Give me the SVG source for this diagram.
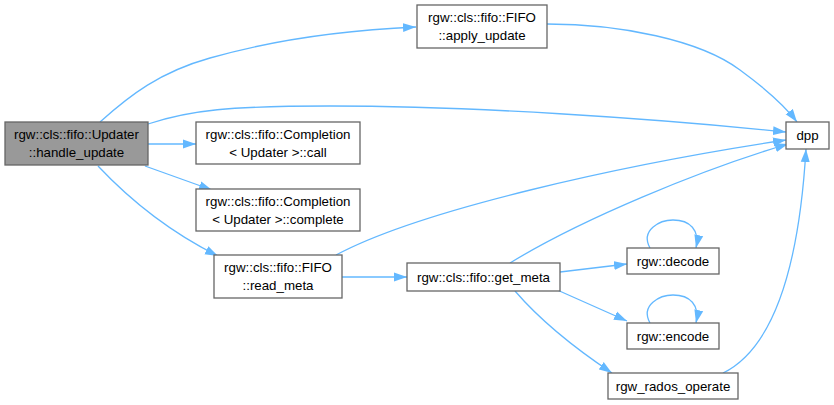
<svg xmlns="http://www.w3.org/2000/svg" width="834" height="405" viewBox="0 0 834 405">
<defs>
<marker id="ah" viewBox="0 0 13 10" refX="13" refY="5" markerWidth="13" markerHeight="10" markerUnits="userSpaceOnUse" orient="auto">
<path d="M0,0.5 L13,5 L0,9.5 Z" fill="#63b8ff" stroke="none"/>
</marker>
</defs>
<style>
.n rect{fill:#ffffff;stroke:#666666;stroke-width:1.3}
.n.hl rect{fill:#999999}
.n text{font-family:"Liberation Sans",Arial,sans-serif;font-size:13.3px;fill:#000;text-anchor:middle}
.e path{fill:none;stroke:#63b8ff;stroke-width:1.3;marker-end:url(#ah)}
</style>
<rect width="834" height="405" fill="#ffffff"/>
<g class="e" id="edges">
<path d="M100,122 C130,95 160,72 210,58 C280,38 350,30 416,27"/>
<path d="M148,124 C190,110 230,106 330,106 C470,106 650,118 786,132"/>
<path d="M148,144 L196,144"/>
<path d="M145,166 L212,190"/>
<path d="M98,166 C130,200 170,232 218,256"/>
<path d="M547,24 C620,24 700,40 740,70 C770,92 788,110 797,122"/>
<path d="M336,255 C420,210 620,165 786,140"/>
<path d="M342,277 L407,277"/>
<path d="M510,263 C580,220 700,170 788,144"/>
<path d="M560,272 L627,264"/>
<path d="M555,289 L627,321"/>
<path d="M515,291 C540,320 570,345 612,373"/>
<path d="M723,373 C780,345 800,250 806,149"/>
<path d="M650,248 C640,230 660,220 673,220 C690,220 700,230 696,248"/>
<path d="M650,323 C640,305 660,295 673,295 C690,295 700,305 696,323"/>
</g>
<g class="n hl" id="node_handle_update">
<rect x="5" y="122" width="143" height="43"/>
<text x="76.5" y="139">rgw::cls::fifo::Updater</text>
<text x="76.5" y="157">::handle_update</text>
</g>
<g class="n" id="node_apply_update">
<rect x="417" y="5" width="130" height="43"/>
<text x="482" y="22">rgw::cls::fifo::FIFO</text>
<text x="482" y="40">::apply_update</text>
</g>
<g class="n" id="node_dpp">
<rect x="786" y="122" width="43" height="27"/>
<text x="807.5" y="140">dpp</text>
</g>
<g class="n" id="node_call">
<rect x="196" y="122" width="164" height="42"/>
<text x="278" y="139">rgw::cls::fifo::Completion</text>
<text x="278" y="157">&lt; Updater &gt;::call</text>
</g>
<g class="n" id="node_complete">
<rect x="196" y="189" width="164" height="42"/>
<text x="278" y="206">rgw::cls::fifo::Completion</text>
<text x="278" y="224">&lt; Updater &gt;::complete</text>
</g>
<g class="n" id="node_read_meta">
<rect x="214" y="255" width="128" height="43"/>
<text x="278" y="272">rgw::cls::fifo::FIFO</text>
<text x="278" y="290">::read_meta</text>
</g>
<g class="n" id="node_get_meta">
<rect x="407" y="263" width="153" height="28"/>
<text x="483.5" y="282">rgw::cls::fifo::get_meta</text>
</g>
<g class="n" id="node_decode">
<rect x="627" y="248" width="92" height="26"/>
<text x="673" y="266">rgw::decode</text>
</g>
<g class="n" id="node_encode">
<rect x="627" y="323" width="92" height="26"/>
<text x="673" y="341">rgw::encode</text>
</g>
<g class="n" id="node_rados_operate">
<rect x="608" y="373" width="130" height="26"/>
<text x="673" y="391">rgw_rados_operate</text>
</g>
</svg>
